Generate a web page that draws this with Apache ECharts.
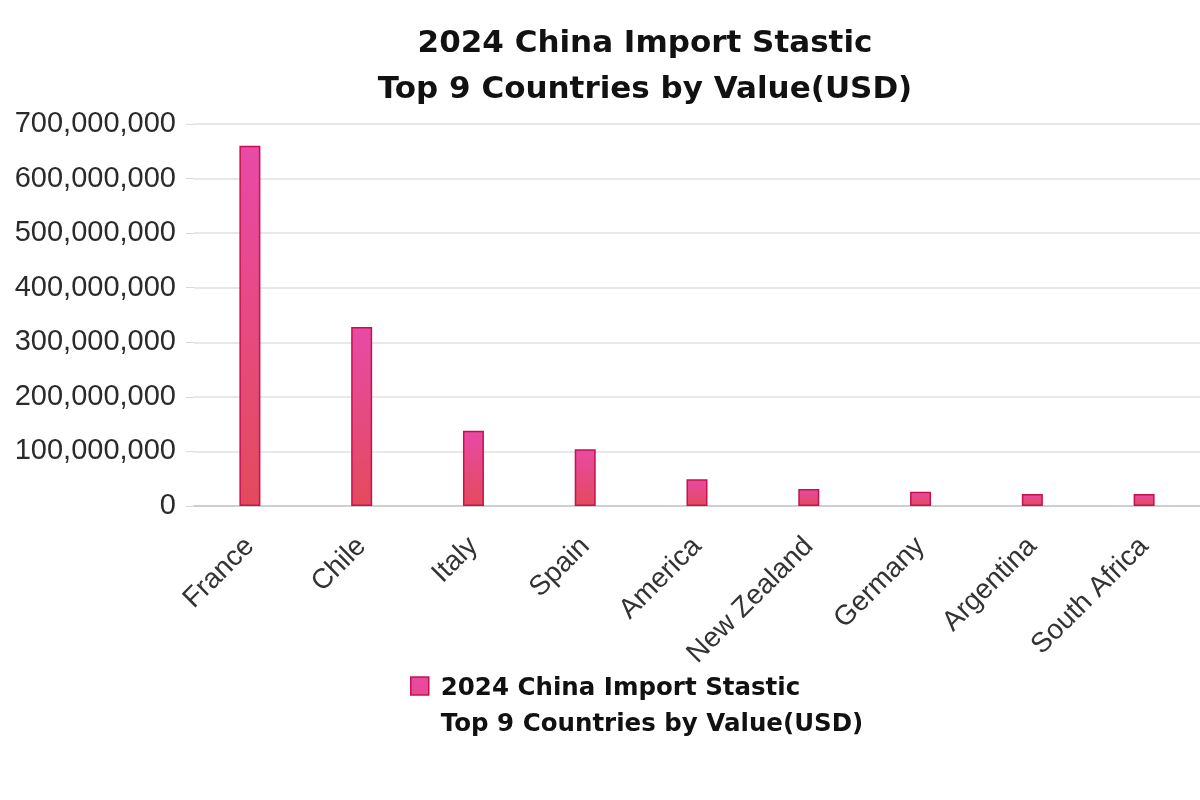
<!DOCTYPE html>
<html><head><meta charset="utf-8">
<script src="https://cdn.jsdelivr.net/npm/echarts@6/dist/echarts.min.js"></script>
<style>html,body{margin:0;padding:0;background:#fff}#c{width:1200px;height:800px}</style>
</head><body><div id="c"></div>
<script>
const titleLines = ['2024 China Import Stastic', 'Top 9 Countries by Value(USD)'];
const categories = ['France', 'Chile', 'Italy', 'Spain', 'America', 'New Zealand', 'Germany', 'Argentina', 'South Africa'];
const values = [660000000, 328000000, 138000000, 104000000, 49000000, 31000000, 26000000, 22000000, 22000000];
const yTicks = [0, 100000000, 200000000, 300000000, 400000000, 500000000, 600000000, 700000000];

const chart = echarts.init(document.getElementById('c'));
const barColor = new echarts.graphic.LinearGradient(0, 0, 0, 1, [
  {offset: 0, color: '#e84aa6'},
  {offset: 1, color: '#e44a5c'}
]);
const seriesName = titleLines.join('\n');
chart.setOption({
  animation: false,
  title: {
    text: seriesName,
    left: 640, top: 16, textAlign: 'center',
    textStyle: {fontFamily: 'DejaVu Sans', fontWeight: 'bold', fontSize: 31, lineHeight: 46, color: '#111'}
  },
  legend: {
    data: [{name: seriesName, icon: 'path://M0,0L18,0L18,18L0,18Z M0,60'}],
    left: 405, top: 666,
    itemWidth: 18, itemHeight: 60,
    itemStyle: {color: barColor, borderColor: '#c8104e', borderWidth: 1.5},
    textStyle: {fontFamily: 'DejaVu Sans', fontWeight: 'bold', fontSize: 24.5, lineHeight: 36, color: '#111', padding: [0,0,0,7]}
  },
  grid: {left: 194, right: 0, top: 124, bottom: 294, containLabel: false},
  xAxis: {
    type: 'category', data: categories,
    axisLine: {lineStyle: {color: '#cfcfcf', width: 2}},
    axisTick: {show: false},
    axisLabel: {rotate: 45, fontFamily: 'Liberation Sans', fontSize: 28, color: '#333', margin: 36, interval: 0}
  },
  yAxis: {
    type: 'value', min: yTicks[0], max: yTicks[yTicks.length - 1], interval: yTicks[1] - yTicks[0],
    axisLine: {show: false},
    axisTick: {show: true, length: 8, lineStyle: {color: '#d8d8d8'}},
    splitLine: {lineStyle: {color: '#e0e0e0', width: 1.5}},
    axisLabel: {fontFamily: 'Liberation Sans', fontSize: 29, color: '#2a2a2a', margin: 18,
      formatter: v => v.toLocaleString('en-US')}
  },
  series: [{
    name: seriesName,
    type: 'bar', data: values, barWidth: 21,
    itemStyle: {color: barColor, borderColor: '#c8104e', borderWidth: 1.5}
  }]
});
</script></body></html>
